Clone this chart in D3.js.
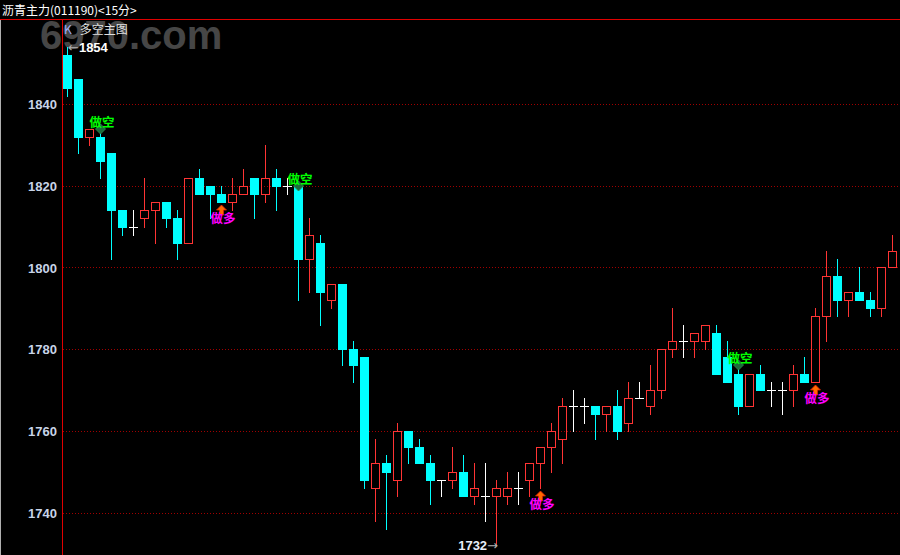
<!DOCTYPE html>
<html>
<head>
<meta charset="utf-8">
<script src="https://cdn.jsdelivr.net/npm/d3@7"></script>
<style>
  html, body { margin: 0; padding: 0; background: #000; }
  svg { display: block; }
</style>
</head>
<body>
<script>
// chart data (15 minute bars)
const opens  = [1852,1846,1832,1832,1828,1814,1810,1812,1814,1816,1812,1806,1822,1820,1818,1816,1818,1822,1818,1822,
                1820,1820,1802,1806,1792,1796,1780,1778,1746,1752,1748,1760,1756,1752,1748,1748,1750,1744,1744,1744,
                1744,1746,1748,1752,1756,1758,1766,1766,1766,1764,1766,1762,1768,1766,1770,1780,1782,1782,1782,1784,
                1778,1774,1766,1774,1770,1770,1770,1774,1772,1788,1798,1792,1794,1792,1790,1800];
const highs  = [1854,1846,1834,1834,1828,1814,1814,1822,1816,1816,1814,1822,1824,1820,1820,1822,1824,1822,1830,1824,
                1822,1820,1812,1808,1796,1796,1782,1778,1758,1754,1762,1760,1758,1754,1748,1756,1754,1752,1752,1748,
                1750,1750,1752,1756,1762,1768,1770,1768,1766,1766,1770,1772,1772,1776,1780,1790,1786,1784,1786,1786,
                1782,1776,1774,1776,1772,1772,1776,1778,1790,1804,1802,1794,1800,1794,1800,1808];
const lows   = [1842,1828,1830,1822,1802,1808,1808,1810,1806,1810,1802,1806,1818,1812,1816,1814,1818,1812,1816,1814,
                1818,1792,1794,1786,1790,1776,1772,1746,1738,1736,1744,1752,1752,1742,1744,1746,1744,1742,1738,1732,
                1742,1742,1744,1746,1750,1752,1760,1762,1758,1760,1758,1760,1768,1764,1768,1778,1778,1778,1780,1774,
                1772,1764,1766,1770,1766,1764,1766,1772,1772,1782,1788,1788,1792,1788,1788,1800];
const closes = [1844,1832,1834,1826,1814,1810,1810,1814,1816,1812,1806,1822,1818,1818,1816,1818,1820,1818,1822,1820,
                1820,1802,1808,1794,1796,1780,1776,1748,1752,1750,1760,1756,1752,1748,1748,1750,1744,1746,1744,1746,
                1746,1746,1752,1756,1760,1766,1766,1766,1764,1766,1760,1768,1768,1770,1780,1782,1782,1784,1786,1774,
                1772,1766,1774,1770,1770,1770,1774,1772,1788,1798,1792,1794,1792,1790,1800,1804];

// signal bars
const shortSignals = [3, 21, 61];   // 做空
const longSignals = [14, 43, 68];   // 做多

const yTicks = [1740, 1760, 1780, 1800, 1820, 1840];
const title = '沥青主力(011190)<15分>';

const bars = opens.map((o, i) => ({ i, o, h: highs[i], l: lows[i], c: closes[i] }));

const width = 900;
const height = 555;
const axisX = 62;
const topY = 19;

const svg = d3.select('body')
  .append('svg')
  .attr('width', width)
  .attr('height', height)
  .style('background', '#000');

// scales
const x = d3.scaleBand()
  .domain(d3.range(bars.length))
  .range([axisX, axisX + bars.length * 11]);

const y = d3.scaleLinear()
  .domain([1740, 1840])
  .range([512.5, 104]);

const cx = i => Math.round(x(i) + 5);
const py = v => Math.round(y(v));

// watermark
svg.append('text')
  .attr('x', 40)
  .attr('y', 49)
  .attr('font-family', 'Liberation Sans, Arial, sans-serif')
  .attr('font-weight', 'bold')
  .attr('font-size', 40)
  .attr('fill', '#464646')
  .text('6970.com');

// gridlines
svg.append('g')
  .selectAll('line')
  .data(yTicks)
  .enter()
  .append('line')
  .attr('x1', axisX + 1)
  .attr('x2', width)
  .attr('y1', d => py(d) + 0.5)
  .attr('y2', d => py(d) + 0.5)
  .attr('stroke', '#a00000')
  .attr('stroke-dasharray', '1,2');

// y axis labels
const yAxis = svg.append('g')
  .attr('transform', `translate(${axisX - 4},0.5)`)
  .call(d3.axisLeft(y).tickValues(yTicks).tickSize(0).tickPadding(1).tickFormat(d3.format('d')));
yAxis.select('.domain').remove();
yAxis.selectAll('text')
  .attr('font-family', 'Liberation Sans, Arial, sans-serif')
  .attr('font-weight', 'bold')
  .attr('font-size', 13)
  .attr('fill', '#c8d4e8');

// frame lines
svg.append('line')
  .attr('x1', 0).attr('x2', width)
  .attr('y1', topY + 0.5).attr('y2', topY + 0.5)
  .attr('stroke', '#e00000');
svg.append('line')
  .attr('x1', axisX + 0.5).attr('x2', axisX + 0.5)
  .attr('y1', topY).attr('y2', height)
  .attr('stroke', '#e00000');
svg.append('line')
  .attr('x1', 0.5).attr('x2', 0.5)
  .attr('y1', topY + 1).attr('y2', height)
  .attr('stroke', '#b0b0b0');

// title bar
svg.append('text')
  .attr('x', 2)
  .attr('y', 15)
  .attr('font-family', 'Noto Sans CJK SC, sans-serif')
  .attr('font-size', 12)
  .attr('fill', '#ffffff')
  .text(title);

const legend = svg.append('text')
  .attr('x', 64)
  .attr('y', 34)
  .attr('font-family', 'Noto Sans CJK SC, sans-serif')
  .attr('font-size', 12);
legend.append('tspan').attr('fill', '#9fb0ff').text('K');
legend.append('tspan').attr('dx', 8).attr('fill', '#e0e0e0').text('多空主图');

// candles
const colorOf = d => d.c > d.o ? '#ff3434' : d.c < d.o ? '#00ffff' : '#ffffff';

const candles = svg.append('g')
  .selectAll('g')
  .data(bars)
  .enter()
  .append('g');

// wicks
candles.append('line')
  .attr('x1', d => cx(d.i) + 0.5)
  .attr('x2', d => cx(d.i) + 0.5)
  .attr('y1', d => py(d.h))
  .attr('y2', d => py(Math.max(d.o, d.c)))
  .attr('stroke', colorOf);
candles.append('line')
  .attr('x1', d => cx(d.i) + 0.5)
  .attr('x2', d => cx(d.i) + 0.5)
  .attr('y1', d => py(Math.min(d.o, d.c)))
  .attr('y2', d => py(d.l) + 1)
  .attr('stroke', colorOf);

// bodies
candles.filter(d => d.c < d.o)
  .append('rect')
  .attr('x', d => cx(d.i) - 4)
  .attr('y', d => py(d.o))
  .attr('width', 9)
  .attr('height', d => py(d.c) - py(d.o) + 1)
  .attr('fill', '#00ffff');

candles.filter(d => d.c > d.o)
  .append('rect')
  .attr('x', d => cx(d.i) - 3.5)
  .attr('y', d => py(d.c) + 0.5)
  .attr('width', 8)
  .attr('height', d => py(d.o) - py(d.c))
  .attr('fill', 'none')
  .attr('stroke', '#ff3434');

candles.filter(d => d.c === d.o)
  .append('line')
  .attr('x1', d => cx(d.i) - 4)
  .attr('x2', d => cx(d.i) + 5)
  .attr('y1', d => py(d.c) + 0.5)
  .attr('y2', d => py(d.c) + 0.5)
  .attr('stroke', '#ffffff');

// short signals: diamond + 做空
const shorts = svg.append('g')
  .selectAll('g')
  .data(shortSignals.map(i => bars[i]))
  .enter()
  .append('g')
  .attr('transform', d => `translate(${cx(d.i) + 0.5},${py(d.h)})`);
shorts.append('path')
  .attr('d', 'M-5,0 L0,-5 L5,0 L0,5 Z')
  .attr('fill', '#1c6b3c')
  .attr('stroke', '#2f8f50')
  .attr('stroke-width', 0.8);
shorts.append('text')
  .attr('x', -11)
  .attr('y', -2)
  .attr('font-family', 'Noto Sans CJK SC, sans-serif')
  .attr('font-weight', 'bold')
  .attr('font-size', 12.5)
  .attr('fill', '#00ff00')
  .text('做空');

// long signals: arrow + 做多
const longs = svg.append('g')
  .selectAll('g')
  .data(longSignals.map(i => bars[i]))
  .enter()
  .append('g')
  .attr('transform', d => `translate(${cx(d.i) + 0.5},${py(d.l) + 3})`);
longs.append('path')
  .attr('d', 'M0,0 L5,5 L2,5 L2,10 L-2,10 L-2,5 L-5,5 Z')
  .attr('fill', '#ff6a00')
  .attr('stroke', '#e02000')
  .attr('stroke-width', 0.8);
longs.append('text')
  .attr('x', -11)
  .attr('y', 18)
  .attr('font-family', 'Noto Sans CJK SC, sans-serif')
  .attr('font-weight', 'bold')
  .attr('font-size', 12.5)
  .attr('fill', '#ff00ff')
  .text('做多');

// extreme labels
const hiIdx = d3.maxIndex(highs);
const loIdx = d3.minIndex(lows);

const hiLabel = svg.append('text')
  .attr('x', cx(hiIdx) + 1)
  .attr('y', py(highs[hiIdx]) + 5)
  .attr('font-family', 'Liberation Sans, Arial, sans-serif')
  .attr('font-weight', 'bold')
  .attr('font-size', 13);
hiLabel.append('tspan').attr('fill', '#b0b0b0')
  .attr('font-family', 'DejaVu Sans, sans-serif').attr('font-weight', 'normal').text('←');
hiLabel.append('tspan').attr('fill', '#ffffff').text(highs[hiIdx]);

const loLabel = svg.append('text')
  .attr('x', cx(loIdx) + 2)
  .attr('y', py(lows[loIdx]) + 5)
  .attr('text-anchor', 'end')
  .attr('font-family', 'Liberation Sans, Arial, sans-serif')
  .attr('font-weight', 'bold')
  .attr('font-size', 13);
loLabel.append('tspan').attr('fill', '#e8eef8').text(lows[loIdx]);
loLabel.append('tspan').attr('fill', '#b0b0b0')
  .attr('font-family', 'DejaVu Sans, sans-serif').attr('font-weight', 'normal').text('→');
</script>
</body>
</html>
